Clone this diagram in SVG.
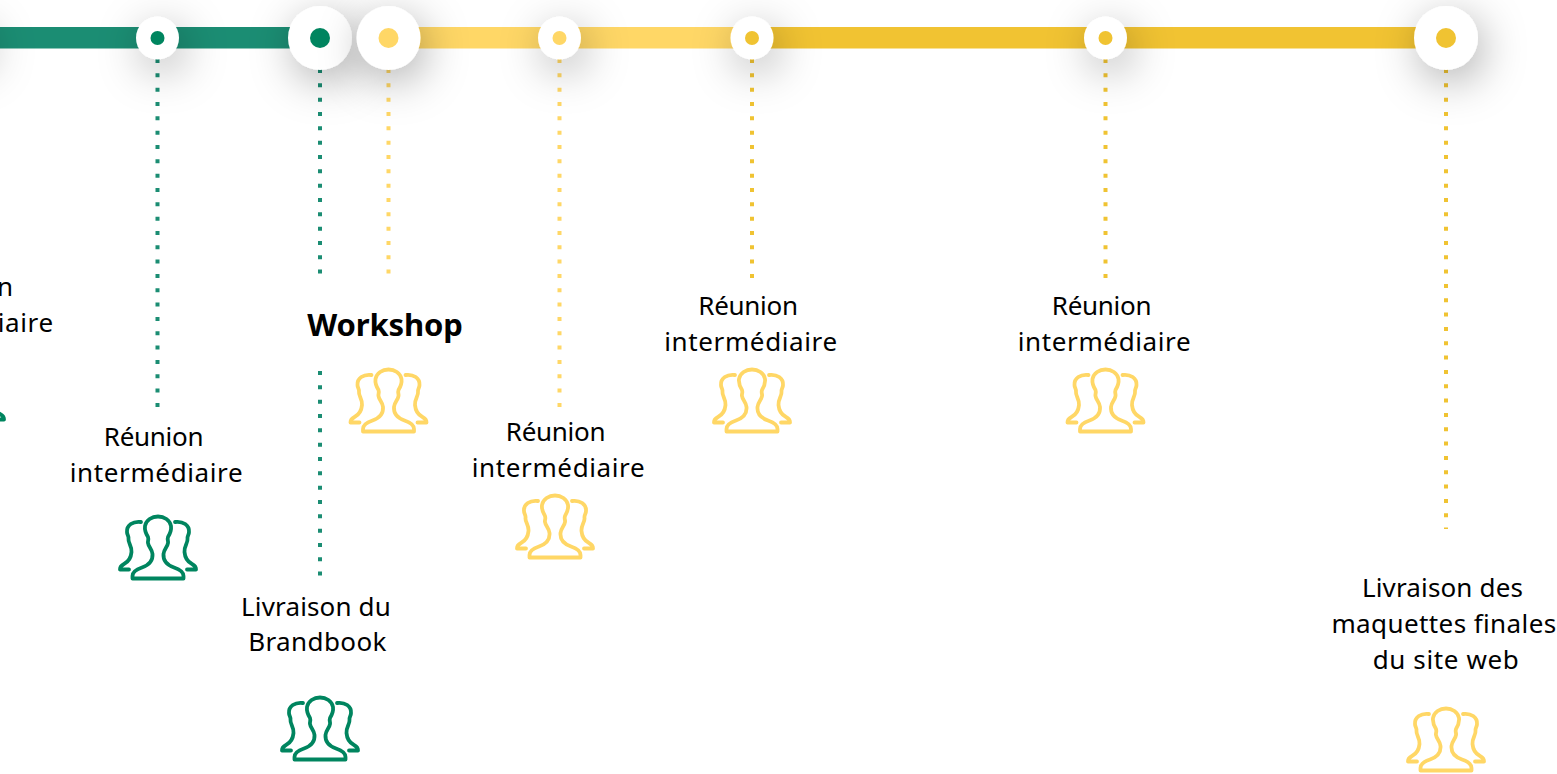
<svg xmlns="http://www.w3.org/2000/svg" xmlns:xlink="http://www.w3.org/1999/xlink" width="1557" height="774" viewBox="0 0 1557 774">
<style>
.t{font-family:"Noto Sans","Open Sans",sans-serif;font-size:26px;fill:#000;text-anchor:middle}
.l{letter-spacing:.62px}
.r{letter-spacing:-.3px}
.m{letter-spacing:.4px}
.s{letter-spacing:.15px}
.b{font-size:31px;font-weight:700;letter-spacing:-.1px}
.d{fill:none;stroke-width:4;stroke-dasharray:4 10.33}
.bar{stroke:none}
.halo{fill:#fff;filter:url(#s)}
.ic{fill:none;stroke-width:3.8;stroke-linejoin:round;stroke-linecap:round}
.gn{stroke:#00855f}.yl{stroke:#ffd766}
.fgn{fill:#00855f}.fyl{fill:#ffd766}.fau{fill:#f0c332}
</style>
<defs>
<filter id="s" x="-300%" y="-300%" width="700%" height="700%"><feDropShadow dx="5" dy="11" stdDeviation="22" flood-color="#000" flood-opacity=".32"/></filter>
<g id="people">
<path d="M-25.500 28C-25.500 24-22 21.500-16 19.500C-9 17-5 12-5.500 6C-6 1-9.500-1-10-5C-10.500-7-9-8-10-11C-12.500-15-13.500-18-13-22C-12-28-6-31.500 0-31.500C6-31.500 12-28 13-22C13.500-18 12.500-15 10-11C9-8 10.500-7 10-5C9.500-1 6 1 5.500 6C5 12 9 17 16 19.500C22 21.500 25.500 24 25.500 28V30.500H-25.500Z"/>
<path d="M-17-26C-25-27-31.500-23-31-16C-31-13-29-12-29.500-9C-30-5-26-2-26.500 4C-27 10-30 14-34 16C-37 17.500-38 19-38 21.500H-29"/>
<path d="M17-26C25-27 31.500-23 31-16C31-13 29-12 29.500-9C30-5 26-2 26.500 4C27 10 30 14 34 16C37 17.500 38 19 38 21.500H29"/>
</g>
</defs>
<rect width="1557" height="774" fill="#fff"/>
<g id="connectors">
<rect class="bar" x="0" y="27" width="320" height="21.500" fill="#1b8d73"/>
<rect class="bar" x="388" y="27" width="364" height="21.500" fill="#ffd766"/>
<rect class="bar" x="752" y="27" width="694" height="21.500" fill="#f1c332"/>
<path class="d" stroke="#1b8d73" d="M157.500 59V407"/>
<path class="d" stroke="#1b8d73" d="M320 69V274M320 371V576"/>
<path class="d" stroke="#ffd766" d="M388.500 69V274"/>
<path class="d" stroke="#ffd766" d="M559.500 59V407"/>
<path class="d" stroke="#f0c332" d="M752 59V278"/>
<path class="d" stroke="#f0c332" d="M1105.500 59V278"/>
<path class="d" stroke="#f0c332" d="M1446 69V529"/>
</g>
<g id="node-0"><circle class="halo" cx="-35" cy="38" r="21.500"/><text class="t r" x="-37" y="296">Réunion</text><text class="t l" x="-33" y="332">intermédiaire</text><use xlink:href="#people" href="#people" class="ic gn" transform="translate(-34 398)"/></g>
<g id="node-1"><circle class="halo" cx="157.500" cy="38" r="21.500"/><circle class="fgn" cx="157.500" cy="38" r="7"/><text class="t r" x="153.500" y="446">Réunion</text><text class="t l" x="156.500" y="482">intermédiaire</text><use xlink:href="#people" href="#people" class="ic gn" transform="translate(158 548)"/></g>
<g id="node-2"><circle class="halo" cx="320" cy="38" r="32"/><circle class="fgn" cx="320" cy="38" r="10"/><text class="t s" x="316" y="616">Livraison du</text><text class="t m" x="317.500" y="651">Brandbook</text><use xlink:href="#people" href="#people" class="ic gn" transform="translate(320 729)"/></g>
<g id="node-3"><circle class="halo" cx="388.500" cy="38" r="32"/><circle class="fyl" cx="388.500" cy="38" r="10"/><text class="t b" x="385" y="336">Workshop</text><use xlink:href="#people" href="#people" class="ic yl" transform="translate(388.500 401)"/></g>
<g id="node-4"><circle class="halo" cx="559.500" cy="38" r="21.500"/><circle class="fyl" cx="559.500" cy="38" r="7"/><text class="t r" x="555.500" y="441">Réunion</text><text class="t l" x="558.500" y="477">intermédiaire</text><use xlink:href="#people" href="#people" class="ic yl" transform="translate(555 527)"/></g>
<g id="node-5"><circle class="halo" cx="752" cy="38" r="21.500"/><circle class="fau" cx="752" cy="38" r="7"/><text class="t r" x="748" y="315">Réunion</text><text class="t l" x="751" y="351">intermédiaire</text><use xlink:href="#people" href="#people" class="ic yl" transform="translate(752 401)"/></g>
<g id="node-6"><circle class="halo" cx="1105.500" cy="38" r="21.500"/><circle class="fau" cx="1105.500" cy="38" r="7"/><text class="t r" x="1101.500" y="315">Réunion</text><text class="t l" x="1104.500" y="351">intermédiaire</text><use xlink:href="#people" href="#people" class="ic yl" transform="translate(1105.500 401)"/></g>
<g id="node-7"><circle class="halo" cx="1446" cy="38" r="32"/><circle class="fau" cx="1446" cy="38" r="10"/><text class="t s" x="1442.500" y="597">Livraison des</text><text class="t m" x="1444" y="633">maquettes finales</text><text class="t l" x="1446" y="669">du site web</text><use xlink:href="#people" href="#people" class="ic yl" transform="translate(1446 740)"/></g>
</svg>
